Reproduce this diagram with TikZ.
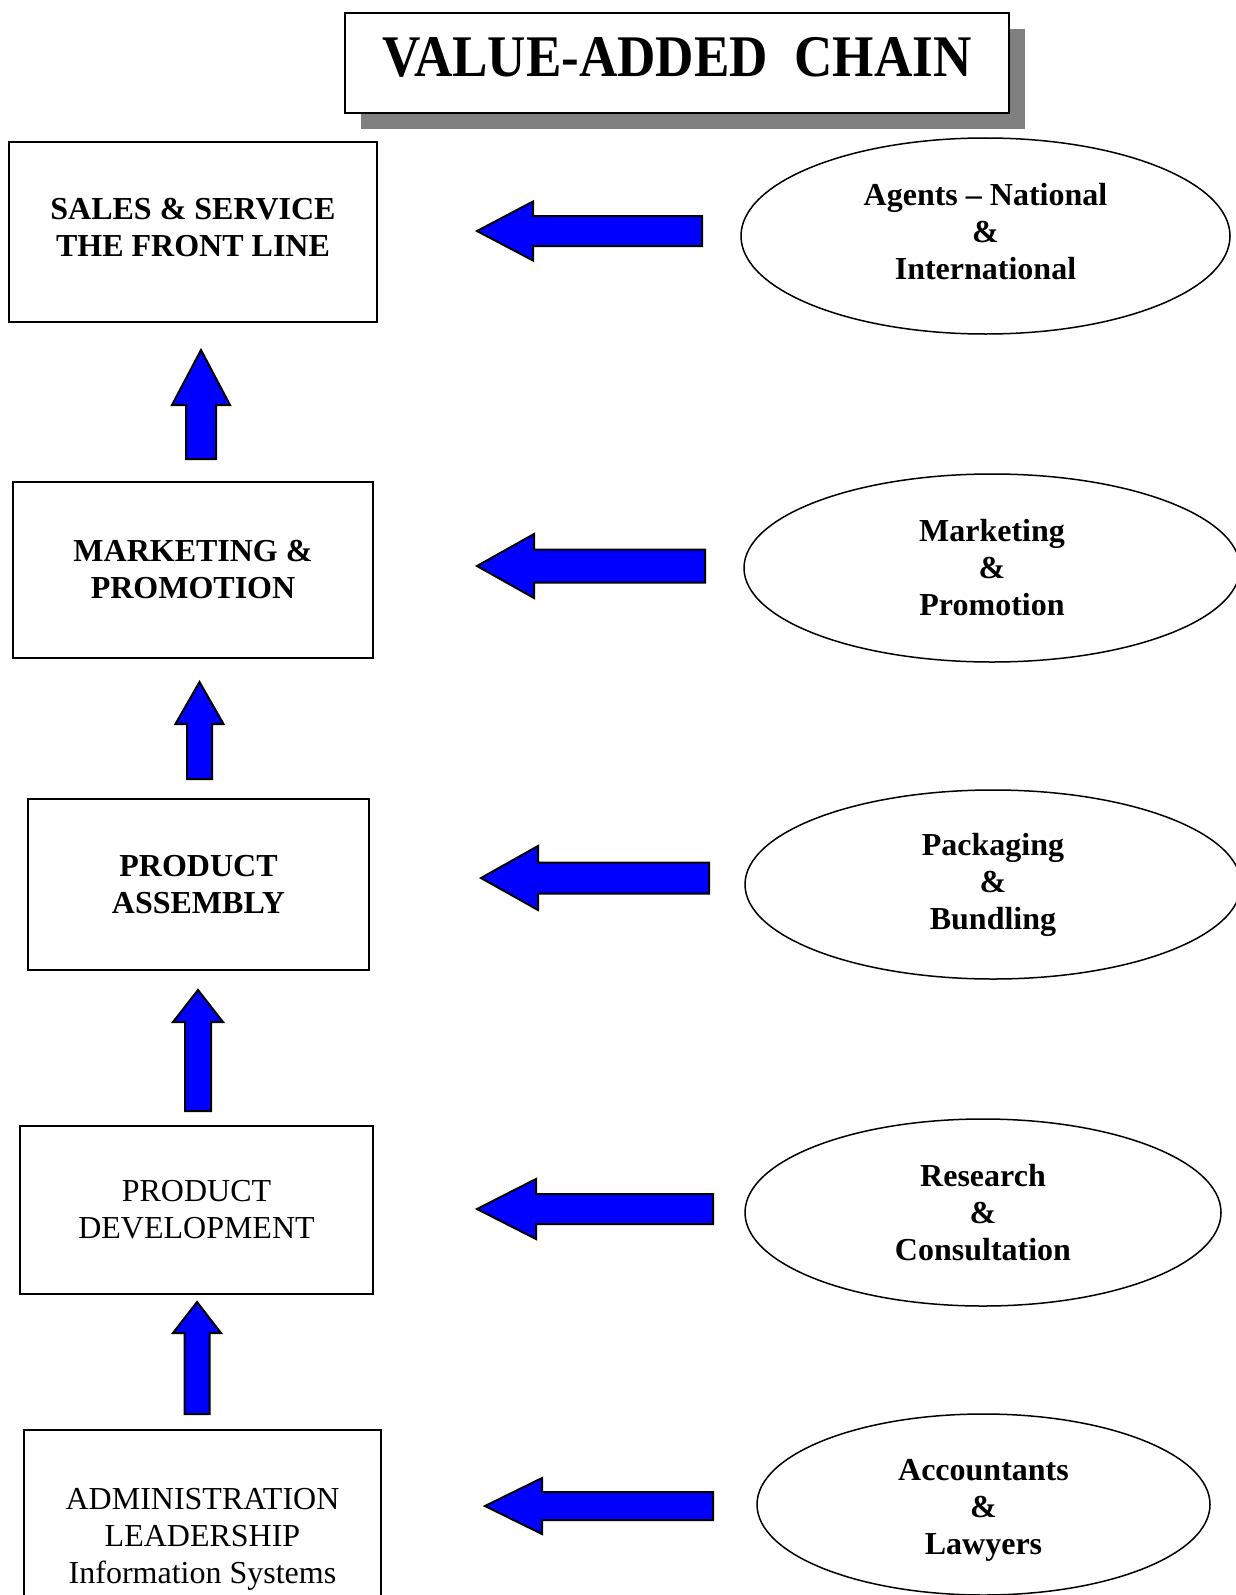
\documentclass[tikz,border=0pt]{standalone}
\usepackage{fontspec}
\setmainfont{Liberation Serif}
\usetikzlibrary{shapes.geometric,shadows}

% block arrows: tip, head base, end, head half width, shaft half width
\newcommand{\upblock}[6]{\draw[blockarrow] (#1,#2) -- (#1+#5,#3) -- (#1+#6,#3) -- (#1+#6,#4) -- (#1-#6,#4) -- (#1-#6,#3) -- (#1-#5,#3) -- cycle;}
\newcommand{\leftblock}[6]{\draw[blockarrow] (#1,#2) -- (#3,#2-#5) -- (#3,#2-#6) -- (#4,#2-#6) -- (#4,#2+#6) -- (#3,#2+#6) -- (#3,#2+#5) -- cycle;}

\begin{document}
\begin{tikzpicture}[x=0.5pt,y=-0.5pt,
    stagebox/.style={draw,line width=1pt,align=center,inner sep=0pt,
      font=\bfseries\fontsize{16}{18.5}\selectfont},
    plainbox/.style={stagebox,font=\fontsize{16}{18.5}\selectfont},
    partner/.style={draw,ellipse,line width=0.75pt,align=center,inner sep=0pt,
      font=\bfseries\fontsize{16}{18.5}\selectfont},
    blockarrow/.style={fill=blue,draw=black,line width=1pt,line join=miter}]
  \path[use as bounding box] (0,0) rectangle (1236,1595);
  \clip (0,0) rectangle (1236,1595);

  % title
  \node (title) [draw,fill=white,line width=1pt,minimum width=332pt,minimum height=50pt,
      drop shadow={shadow xshift=8pt,shadow yshift=-8pt,fill=black!50,opacity=1},
      font=\bfseries\fontsize{29.5}{32}\selectfont] at (677,63)
      {\scalebox{0.9}[1]{VALUE-ADDED~~CHAIN}\rule[-6pt]{0pt}{6pt}};

  % the chain
  \node (sales) [stagebox,minimum width=184pt,minimum height=90pt] at (193,232)
      {SALES \& SERVICE\\THE FRONT LINE\rule[-5pt]{0pt}{5pt}};
  \node (mkt) [stagebox,minimum width=180pt,minimum height=88pt] at (193,570)
      {MARKETING \&\\PROMOTION};
  \node (assembly) [stagebox,minimum width=170.5pt,minimum height=85.5pt] at (198.5,884.5)
      {PRODUCT\\ASSEMBLY};
  \node (devel) [plainbox,minimum width=176.5pt,minimum height=84pt] at (196.5,1210)
      {PRODUCT\\DEVELOPMENT};
  \node (admin) [plainbox,minimum width=178.5pt,minimum height=109pt] at (202.5,1539)
      {ADMINISTRATION\\LEADERSHIP\\Information Systems};

  % partners
  \node (agents) [partner,minimum width=244.5pt,minimum height=98pt] at (985.5,236)
      {Agents -- National\\\&\\International\rule[-5pt]{0pt}{5pt}};
  \node (promo) [partner,minimum width=248pt,minimum height=94pt] at (992,568)
      {Marketing\\\&\\Promotion};
  \node (pack) [partner,minimum width=248pt,minimum height=94.5pt] at (993,884.5)
      {Packaging\\\&\\Bundling};
  \node (research) [partner,minimum width=238pt,minimum height=93.5pt] at (983,1212.5)
      {Research\\\&\\Consultation};
  \node (acct) [partner,minimum width=226.5pt,minimum height=90.5pt] at (983.5,1504.5)
      {\rule{0pt}{16pt}Accountants\\\&\\Lawyers};

  % arrows up the chain
  \upblock{201}{350}{405}{459}{29}{15}
  \upblock{199.5}{682}{724}{779}{24}{12.5}
  \upblock{198}{990}{1022}{1111}{25}{13}
  \upblock{197}{1302}{1333}{1414}{24}{12.5}

  % arrows from the partners
  \leftblock{477}{231}{533}{702}{29.5}{15}
  \leftblock{477}{566}{534}{705}{32}{16.5}
  \leftblock{481}{878}{538}{709}{32}{15.5}
  \leftblock{477}{1209}{536}{713}{30}{15}
  \leftblock{485}{1506}{542}{713}{28}{14}
\end{tikzpicture}
\end{document}
